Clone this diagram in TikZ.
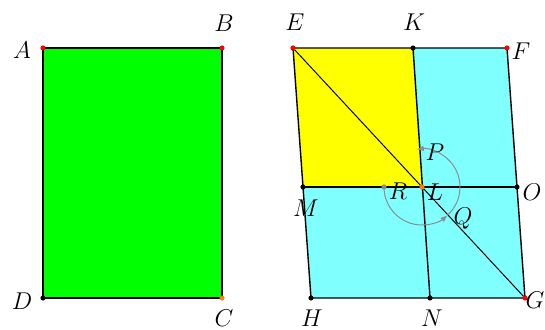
\documentclass[tikz,border=0pt]{standalone}
\usepackage{amsmath, amssymb}
\usepackage{tikz}
\usetikzlibrary{arrows.meta, calc, positioning}

\definecolor{sqgreen}{RGB}{0,255,0}
\definecolor{sqyellow}{RGB}{255,255,0}
\definecolor{sqcyan}{RGB}{128,255,255}
\definecolor{arcgray}{RGB}{140,140,140}

\begin{document}
\begin{tikzpicture}[x=0.025cm, y=-0.025cm,
        dot/.style={circle, inner sep=1.3pt, draw=none},
        lbl/.style={font=\LARGE, inner sep=0pt},
        edge/.style={black, line width=1pt}]
        \useasboundingbox (0,0) rectangle (545,329);

        % Corner points
        \coordinate (A) at (43,48);   \coordinate (B) at (222,48);
        \coordinate (C) at (222,298); \coordinate (D) at (43,298);
        \coordinate (E) at (293,48);  \coordinate (K) at (413,48);  \coordinate (F) at (507,48);
        \coordinate (M) at (303,187); \coordinate (L) at (422,187); \coordinate (O) at (517,187);
        \coordinate (H) at (311,298); \coordinate (N) at (430,298); \coordinate (G) at (525,298);

        % Faces
        \fill[sqgreen] (A) -- (B) -- (C) -- (D) -- cycle;
        \fill[sqcyan] (E) -- (F) -- (G) -- (H) -- cycle;
        \fill[sqyellow] (E) -- (K) -- (L) -- (M) -- cycle;

        % Edges
        \draw[edge] (A) -- (B) -- (C) -- (D) -- cycle;
        \draw[edge] (E) -- (F) -- (G) -- (H) -- cycle;
        \draw[edge] (K) -- (N);
        \draw[edge] (M) -- (O);
        \draw[black, line width=0.7pt] (E) -- (G);

        % Rotation arcs about L
        \coordinate (R) at ($(L)+(-38,0)$);
        \draw[arcgray, line width=0.7pt, -{Latex[length=5pt, width=4pt]}] (R) arc[start angle=180, end angle=48, radius=38];
        \draw[arcgray, line width=0.7pt, -{Latex[length=5pt, width=4pt]}] ($(L)+(48:38)$) arc[start angle=48, end angle=-98, radius=38];

        % Points
        \node[dot, fill=red] (dA) at (A) {};
        \node[dot, fill=red] (dB) at (B) {};
        \node[dot, fill=orange] (dC) at (C) {};
        \node[dot, fill=black] (dD) at (D) {};
        \node[dot, fill=red] (dE) at (E) {};
        \node[dot, fill=black] (dK) at (K) {};
        \node[dot, fill=red] (dF) at (F) {};
        \node[dot, fill=black] (dM) at (M) {};
        \node[dot, fill=orange] (dL) at (L) {};
        \node[dot, fill=black] (dO) at (O) {};
        \node[dot, fill=black] (dH) at (H) {};
        \node[dot, fill=black] (dN) at (N) {};
        \node[dot, fill=red] (dG) at (G) {};
        \node[dot, fill=arcgray] (dR) at (R) {};

        % Labels
        \node[lbl] (lA) at (22,50) {$A$};
        \node[lbl] (lB) at (224,23) {$B$};
        \node[lbl] (lC) at (224,318) {$C$};
        \node[lbl] (lD) at (22,301) {$D$};
        \node[lbl] (lE) at (295,22) {$E$};
        \node[lbl] (lK) at (414,22) {$K$};
        \node[lbl] (lF) at (521,51) {$F$};
        \node[lbl] (lP) at (435,152) {$P$};
        \node[lbl] (lR) at (398,191) {$R$};
        \node[lbl] (lL) at (435,192) {$L$};
        \node[lbl] (lO) at (532,192) {$O$};
        \node[lbl] (lM) at (306,208) {$M$};
        \node[lbl] (lQ) at (463,219) {$Q$};
        \node[lbl] (lH) at (312,318) {$H$};
        \node[lbl] (lN) at (432,318) {$N$};
        \node[lbl] (lG) at (535,300) {$G$};
    \end{tikzpicture}
\end{document}
